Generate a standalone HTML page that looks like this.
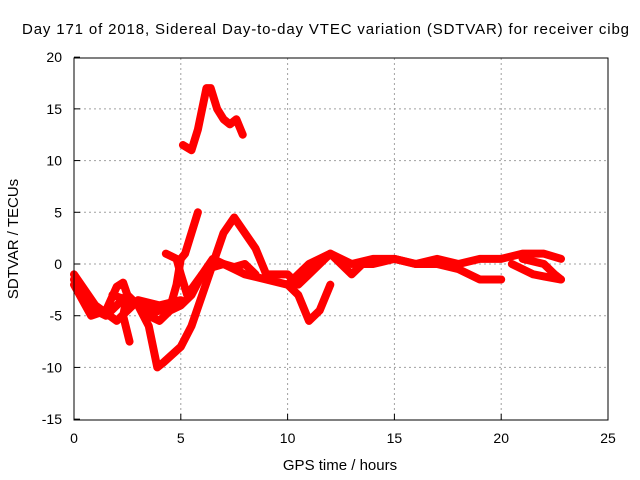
<!DOCTYPE html>
<html><head><meta charset="utf-8"><style>
body{margin:0;background:#fff}
svg{display:block;font-family:"Liberation Sans",sans-serif}
</style></head><body>
<svg id="chart" width="640" height="480">
<text x="22" y="34" font-size="15" textLength="607" lengthAdjust="spacing">Day 171 of 2018, Sidereal Day-to-day VTEC variation (SDTVAR) for receiver cibg</text>
<g id="grid"></g>
<g id="ticks"></g>
<g id="series"></g>
<rect x="74" y="58" width="534" height="362" fill="none" stroke="#000"/>
<text x="340" y="470" font-size="15" text-anchor="middle">GPS time / hours</text>
<text x="0" y="0" font-size="15" text-anchor="middle" transform="translate(18,239) rotate(-90)">SDTVAR / TECUs</text>
</svg>
<script>
const xTicks=[0,5,10,15,20,25];
const yTicks=[-15,-10,-5,0,5,10,15,20];
const s1=[[5.1,11.5],[5.5,11],[5.8,13],[6,15],[6.2,17],[6.4,17],[6.7,15],[7,14],[7.3,13.5],[7.6,14],[7.9,12.5]];
const s2=[[0,-1.5],[0.5,-3],[1,-4.5],[1.5,-5],[2,-4],[2.5,-3],[3,-4],[3.5,-5],[4,-5.5],[4.5,-4.5],[5,-4],[5.5,-3],[6,-1],[6.5,0.5],[7,0],[7.5,-0.5],[8,-1],[9,-1.5],[10,-2],[10.5,-3],[11,-5.5],[11.5,-4.5],[12,-2]];
const s3=[[0,-2],[0.8,-5],[1.5,-4.5],[2,-2.2],[2.3,-1.8],[2.5,-3],[2.3,-5],[2.6,-7.5]];
const s4=[[3,-4],[3.5,-6],[3.9,-10],[4.2,-9.5],[5,-8],[5.5,-6],[6,-3],[6.5,0],[7,3],[7.5,4.5],[8,3],[8.5,1.5],[9,-1],[9.5,-1],[10,-1],[10.5,-2],[11,-1],[11.5,0],[12,1],[13,0],[14,0.5],[15,0.5],[16,0],[17,0],[18,-0.5],[19,-1.5],[20,-1.5]];
const s5=[[3.3,-5],[4,-4.5],[4.5,-4.2],[4.8,-2],[5,0.5],[5.2,1],[5.5,3],[5.8,5]];
const s6=[[10,-2],[11,0],[12,1],[12.5,0],[13,-1],[13.5,0],[14,0],[15,0.5],[16,0],[17,0.5],[18,0],[19,0.5],[20,0.5],[21,1],[22,1],[22.8,0.5]];
const s7=[[20.5,0],[21.5,-1],[22,-1.2],[22.8,-1.5]];
const s8=[[21,0.5],[22,0],[22.5,-1],[22.8,-1.5]];
const s9=[[4.3,1],[4.8,0.5],[5,-1],[5.3,-3],[6,-1],[6.5,-0.3],[7,0],[7.5,-0.3],[8,0],[8.5,-1]];
const s10=[[0,-1],[1,-4],[2,-5.5],[3,-3.5],[4,-4],[5,-3.5],[3.5,-4.5],[2.5,-3.5],[1.8,-3]];
const allSeries=[s1,s2,s3,s4,s5,s6,s7,s8,s9,s10];
const X=v=>74+v*534/25, Y=v=>264-v*362/35;
const NS='http://www.w3.org/2000/svg';
function mk(t,a,p){const e=document.createElementNS(NS,t);for(const k in a)e.setAttribute(k,a[k]);p.appendChild(e);return e;}
const g=document.getElementById('grid'),tk=document.getElementById('ticks'),sg=document.getElementById('series');
xTicks.forEach(v=>{
 if(v>0&&v<25){const l=mk('line',{x1:X(v),x2:X(v),y1:58,y2:420,stroke:'#a0a0a0','stroke-dasharray':'2,3'},g);
 }
 const t=mk('text',{x:X(v),y:443,'font-size':14,'text-anchor':'middle'},tk);t.textContent=v;
 
 mk('line',{x1:X(v),x2:X(v),y1:420,y2:414,stroke:'#000'},tk);
});
yTicks.forEach(v=>{
 if(v>-15&&v<20){const l=mk('line',{x1:74,x2:608,y1:Y(v),y2:Y(v),stroke:'#a0a0a0','stroke-dasharray':'2,3'},g);
 }
 const t=mk('text',{x:62,y:Y(v)+5,'font-size':14,'text-anchor':'end'},tk);t.textContent=v;
 
 mk('line',{x1:74,x2:80,y1:Y(v),y2:Y(v),stroke:'#000'},tk);
});
allSeries.forEach((s,i)=>{
 const p=mk('polyline',{points:s.map(d=>X(d[0])+','+Y(d[1])).join(' '),fill:'none',stroke:'#ff0000','stroke-width':8,'stroke-linejoin':'round','stroke-linecap':'round'},sg);
 
 
});
</script>
</body></html>
